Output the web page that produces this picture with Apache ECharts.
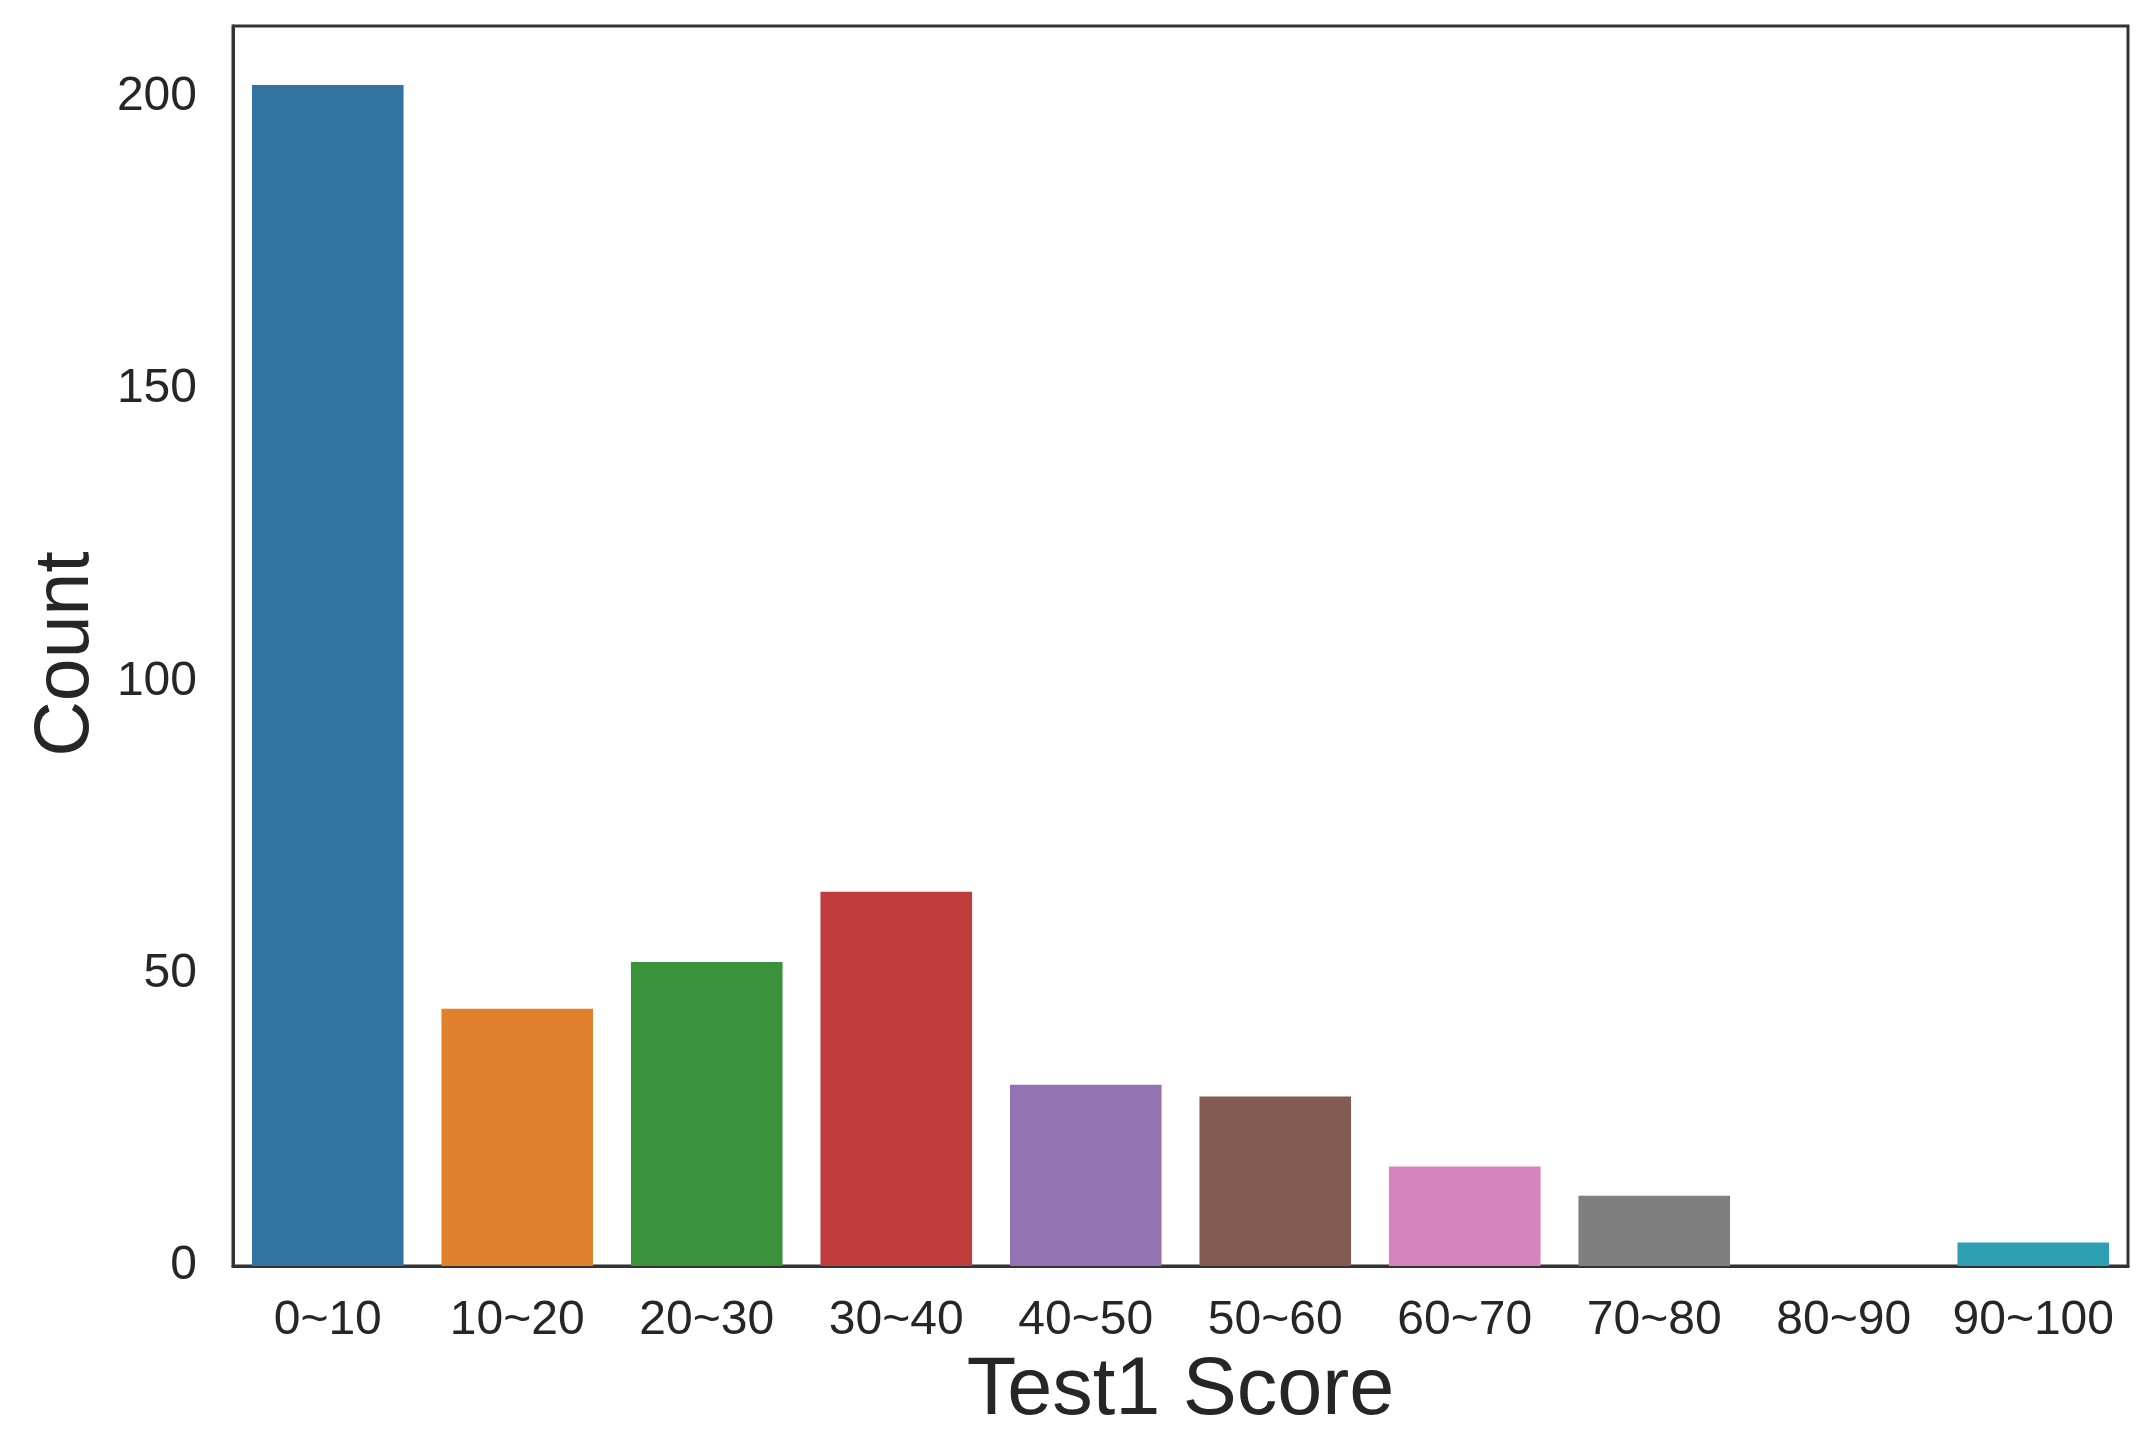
<!DOCTYPE html>
<html>
<head>
<meta charset="utf-8">
<script src="https://cdn.jsdelivr.net/npm/echarts@6/dist/echarts.min.js"></script>
<style>
  html, body { margin: 0; padding: 0; background: #ffffff; }
  #chart { width: 2150px; height: 1438px; }
</style>
</head>
<body>
<div id="chart"></div>
<script>
const categories = ['0~10', '10~20', '20~30', '30~40', '40~50', '50~60', '60~70', '70~80', '80~90', '90~100'];
const counts = [202, 44, 52, 64, 31, 29, 17, 12, 0, 4];
const barColors = ['#3274a1', '#e1812c', '#3a923a', '#c03d3e', '#9372b2', '#845b53', '#d684bd', '#7f7f7f', '#a9aa35', '#2ea0b1'];
const yTicks = [0, 50, 100, 150, 200];
const xTitle = 'Test1 Score';
const yTitle = 'Count';

const textColor = '#262626';
const font = 'Liberation Sans, Arial, sans-serif';
const yMax = Math.max(...counts) * 1.05;

const chart = echarts.init(document.getElementById('chart'), null, { renderer: 'canvas' });
chart.setOption({
  backgroundColor: '#ffffff',
  animation: false,
  grid: {
    left: 233, right: 22, top: 26, bottom: 172,
    show: true, borderColor: '#333333', borderWidth: 3, backgroundColor: 'transparent'
  },
  xAxis: {
    type: 'category',
    data: categories,
    name: xTitle,
    nameLocation: 'middle',
    nameGap: 85,
    nameTextStyle: { fontSize: 81, color: textColor, fontFamily: font },
    axisLine: { show: true, lineStyle: { color: '#333333', width: 3 } },
    axisTick: { show: false },
    axisLabel: { fontSize: 48, color: textColor, fontFamily: font, margin: 31, interval: 0 },
    splitLine: { show: false }
  },
  yAxis: {
    type: 'value',
    min: 0,
    max: yMax,
    interval: 50,
    name: yTitle,
    nameLocation: 'middle',
    nameGap: 128,
    nameRotate: 90,
    nameTextStyle: { fontSize: 77, color: textColor, fontFamily: font, padding: [0, 16, 0, 0] },
    axisLine: { show: true, lineStyle: { color: '#333333', width: 3 } },
    axisTick: { show: false },
    axisLabel: {
      fontSize: 48, color: textColor, fontFamily: font, margin: 36,
      showMaxLabel: false,
      formatter: function (v) { return yTicks.indexOf(v) >= 0 ? String(v) : ''; }
    },
    splitLine: { show: false }
  },
  series: [{
    type: 'bar',
    barWidth: '80%',
    data: counts.map((v, i) => ({ value: v, itemStyle: { color: barColors[i] } }))
  }]
});
</script>
</body>
</html>
